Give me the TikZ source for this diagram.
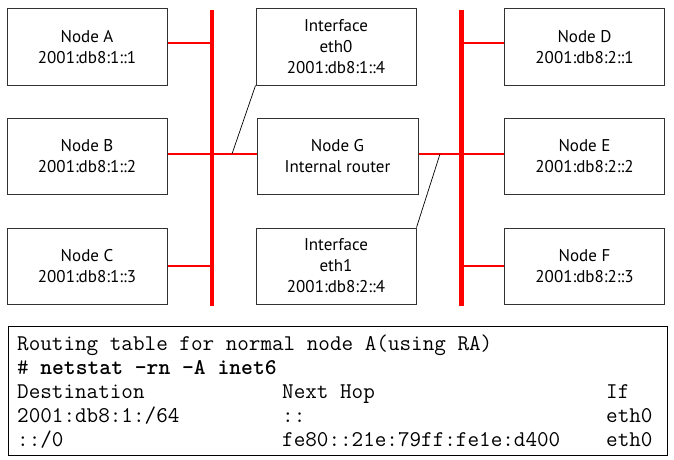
\documentclass[tikz,border=0pt]{standalone}
\usepackage{fontspec}
\setmainfont{PT Sans}
\definecolor{netred}{RGB}{255,0,0}
\definecolor{boxgray}{RGB}{50,50,50}
\begin{document}
\begin{tikzpicture}[x=1pt,y=-1pt,
  box/.style={draw=boxgray, line width=1pt, minimum width=160pt, minimum height=76pt,
    inner sep=0pt, align=center, font=\fontsize{17}{21}\selectfont},
  bus/.style={draw=netred, line width=4.5pt},
  stub/.style={draw=netred, line width=2pt},
  lead/.style={draw=black, line width=0.7pt},
  mono/.style={font=\ttfamily\fontsize{22.5}{23.7}\selectfont, anchor=base west, inner sep=0pt}]
\useasboundingbox (0,0) rectangle (674,460);

% boxes
\node[box] (A) at (87,47) {Node A\\2001:db8:1::1};
\node[box] (B) at (87,156) {Node B\\2001:db8:1::2};
\node[box] (C) at (87,266) {Node C\\2001:db8:1::3};
\node[box] (I0) at (336,47) {Interface\\eth0\\2001:db8:1::4};
\node[box, minimum width=161pt] (G) at (337.5,156) {Node G\\Internal router};
\node[box] (I1) at (336,266) {Interface\\eth1\\2001:db8:2::4};
\node[box] (D) at (584.5,47) {Node D\\2001:db8:2::1};
\node[box] (E) at (584.5,156) {Node E\\2001:db8:2::2};
\node[box] (F) at (584.5,266) {Node F\\2001:db8:2::3};

% buses
\coordinate (LT) at (212,10);
\coordinate (LB) at (212,306);
\coordinate (RT) at (461.5,10);
\coordinate (RB) at (461.5,306);
\draw[bus] (LT) -- (LB);
\draw[bus] (RT) -- (RB);

% stubs
\draw[stub] ([yshift=4pt]A.east) -- ([yshift=4pt]A.east -| LT);
\draw[stub] ([yshift=2pt]B.east) -- ([yshift=2pt]G.west);
\draw[stub] (C.east) -- (C.east -| LT);
\draw[stub] ([yshift=2pt]G.east) -- ([yshift=2pt]E.west);
\draw[stub] ([yshift=4pt]D.west) -- ([yshift=4pt]D.west -| RT);
\draw[stub] (F.west) -- (F.west -| RT);

% interface leads
\coordinate (J0) at (232,154);
\coordinate (J1) at (440,154);
\draw[lead] (I0.south west) -- (J0);
\draw[lead] (I1.north east) -- (J1);

% routing table
\node[draw=black, line width=1pt, minimum width=659pt, minimum height=129pt, inner sep=0pt] (tbl) at (337.5,390.5) {};
\node[mono] (r1) at (17,350) {Routing table for normal node A(using RA)};
\node[mono] (r2) at (17,374) {\# \textbf{netstat -rn -A inet6}};
\node[mono] (h1) at (17,398) {Destination};
\node[mono] (h2) at (282,398) {Next Hop};
\node[mono] (h3) at (606,398) {If};
\node[mono] (a1) at (17,422) {2001:db8:1:/64};
\node[mono] (a2) at (282,422) {::};
\node[mono] (a3) at (606,422) {eth0};
\node[mono] (b1) at (17,446) {::/0};
\node[mono] (b2) at (282,446) {fe80::21e:79ff:fe1e:d400};
\node[mono] (b3) at (606,446) {eth0};
\end{tikzpicture}
\end{document}
